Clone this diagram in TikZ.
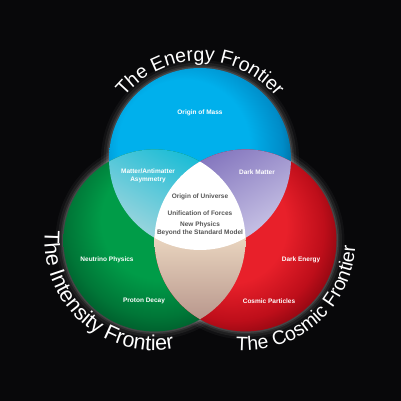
\documentclass[tikz,border=0pt]{standalone}
\usepackage{fontspec}
\setmainfont{Liberation Sans}
\usetikzlibrary{decorations.text}
\definecolor{bg}{RGB}{8,8,10}
\definecolor{blueA}{RGB}{0,176,236}
\definecolor{blueB}{RGB}{0,140,200}
\definecolor{blueC}{RGB}{0,60,95}
\definecolor{greenA}{RGB}{0,156,72}
\definecolor{greenB}{RGB}{0,118,55}
\definecolor{greenC}{RGB}{0,65,32}
\definecolor{redA}{RGB}{232,32,42}
\definecolor{redB}{RGB}{190,14,26}
\definecolor{redC}{RGB}{100,0,8}
\definecolor{tealtop}{RGB}{25,188,214}
\definecolor{tealbot}{RGB}{172,216,222}
\definecolor{lavtop}{RGB}{132,118,190}
\definecolor{lavbot}{RGB}{208,204,234}
\definecolor{tantop}{RGB}{234,214,192}
\definecolor{tanbot}{RGB}{182,148,138}
\definecolor{centertext}{RGB}{85,85,85}
\pgfdeclareradialshading{blueshade}{\pgfpoint{-7bp}{6bp}}{color(0bp)=(blueA); color(18bp)=(blueA); color(26bp)=(blueB); color(34bp)=(blueC); color(50bp)=(blueC)}
\pgfdeclareradialshading{greenshade}{\pgfpoint{2bp}{8bp}}{color(0bp)=(greenA); color(16bp)=(greenA); color(25bp)=(greenB); color(34bp)=(greenC); color(50bp)=(greenC)}
\pgfdeclareradialshading{redshade}{\pgfpoint{-7bp}{6bp}}{color(0bp)=(redA); color(16bp)=(redA); color(25bp)=(redB); color(34bp)=(redC); color(50bp)=(redC)}
\newcommand\frontfnt{\fontsize{19.5}{23}\selectfont}
\newcommand\frontfntb{\fontsize{21.5}{25}\selectfont}
\tikzset{
  lbl/.style={text=white, font=\bfseries\fontsize{6.5}{7.8}\selectfont, align=center, inner sep=0pt},
  clbl/.style={lbl, text=centertext},
  frontier/.style={decorate, decoration={text along path, text={|\frontfnt|#1}, text align=center, text color=white}},
  frontierb/.style={decorate, decoration={text along path, text={|\frontfntb|#1}, text align=center, text color=white}}
}
\begin{document}
\begin{tikzpicture}[x=1pt,y=1pt]
\useasboundingbox (0,0) rectangle (401,401);
\fill[bg] (0,0) rectangle (401,401);
\def\R{91pt}
\coordinate (bc) at (200,242);
\coordinate (gc) at (154.5,160.6);
\coordinate (rc) at (245.5,160.6);
% glow
\foreach \w/\o in {16/0.04, 11/0.06, 6/0.08, 3/0.1} {
  \foreach \c in {bc,gc,rc} \draw[white, line width=\w pt, opacity=\o] (\c) circle[radius=\R];
}
% circles
\shade[shading=blueshade] (bc) circle[radius=\R];
\shade[shading=greenshade] (gc) circle[radius=\R];
\shade[shading=redshade] (rc) circle[radius=\R];
% lenses
\begin{scope}
  \clip (bc) circle[radius=\R];
  \clip (gc) circle[radius=\R];
  \shade[top color=tealtop, bottom color=tealbot, shading angle=-30] (100,155) rectangle (210,258);
\end{scope}
\begin{scope}
  \clip (bc) circle[radius=\R];
  \clip (rc) circle[radius=\R];
  \shade[top color=lavtop, bottom color=lavbot, shading angle=30] (190,155) rectangle (300,258);
\end{scope}
\begin{scope}
  \clip (gc) circle[radius=\R];
  \clip (rc) circle[radius=\R];
  \shade[top color=tantop, bottom color=tanbot] (150,78) rectangle (250,165);
\end{scope}
\begin{scope}
  \clip (bc) circle[radius=\R];
  \clip (gc) circle[radius=\R];
  \fill[white] (rc) circle[radius=\R];
\end{scope}
% frontier titles
\path[frontier={The Energy Frontier}] ([shift={(160:98pt)}]bc) arc[start angle=160, end angle=20, radius=98pt];
\path[frontierb={The Intensity Frontier}] ([shift={(157.6:110pt)}]gc) arc[start angle=157.6, end angle=297.6, radius=110pt];
\path[frontier={The Cosmic Frontier}] ([shift={(241:110pt)}]rc) arc[start angle=241, end angle=381, radius=110pt];
% labels
\node[lbl] (mass) at (200,288) {Origin of Mass};
\node[lbl] (matter) at (148,225) {Matter/Antimatter\\Asymmetry};
\node[lbl] (dm) at (257,229) {Dark Matter};
\node[clbl] (univ) at (200,204) {Origin of Universe};
\node[clbl] (unif) at (200,188) {Unification of Forces};
\node[clbl] (newph) at (200,172) {New Physics\\Beyond the Standard Model};
\node[lbl] (neutrino) at (107,141) {Neutrino Physics};
\node[lbl] (proton) at (144,100) {Proton Decay};
\node[lbl] (de) at (301,141) {Dark Energy};
\node[lbl] (cp) at (269,100) {Cosmic Particles};
\end{tikzpicture}
\end{document}
